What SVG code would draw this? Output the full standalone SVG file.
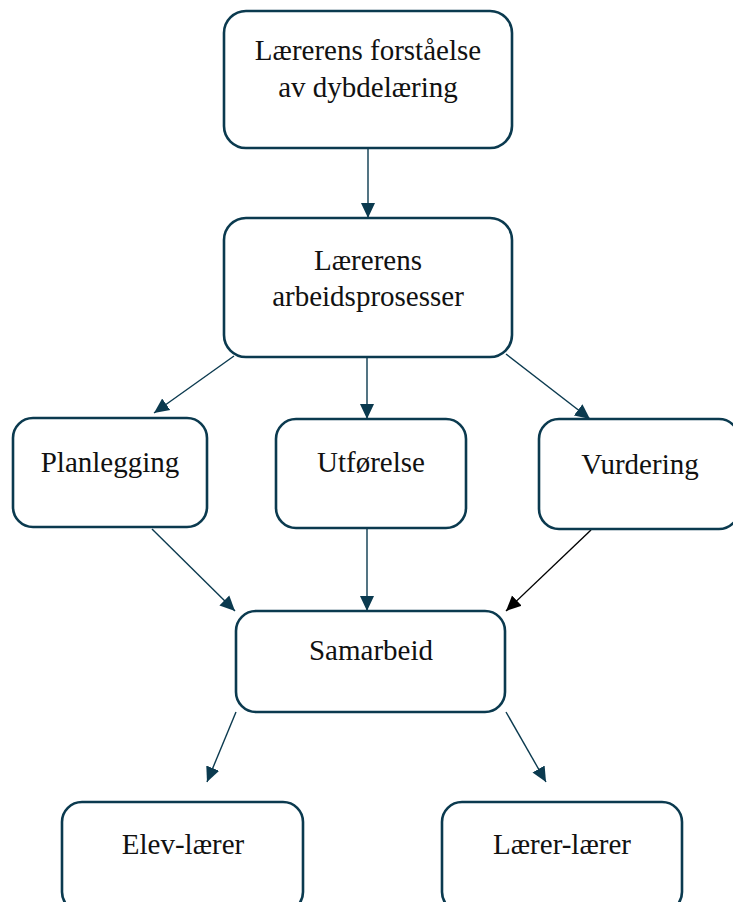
<svg xmlns="http://www.w3.org/2000/svg" width="733" height="902" viewBox="0 0 733 902">
<style>
.box{fill:#fff;stroke:#0b3a4f;stroke-width:2.6}
.t{font-family:"Liberation Serif","Times New Roman",serif;font-size:29px;fill:#111;text-anchor:middle}
.c{stroke:#0b3a4f;stroke-width:1.4;fill:none}
.k{stroke:#000;stroke-width:1.4;fill:none}
</style>
<defs>
<marker id="a" markerUnits="userSpaceOnUse" markerWidth="16" markerHeight="16" viewBox="0 0 16 16" refX="15" refY="8" orient="auto">
<path d="M0,1 L15,8 L0,15 Z" fill="#0b3a4f"/>
</marker>
<marker id="ak" markerUnits="userSpaceOnUse" markerWidth="16" markerHeight="16" viewBox="0 0 16 16" refX="15" refY="8" orient="auto">
<path d="M0,1 L15,8 L0,15 Z" fill="#000"/>
</marker>
</defs>
<g id="connectors">
<line class="c" x1="368" y1="149" x2="368" y2="218" marker-end="url(#a)"/>
<line class="c" x1="234" y1="356" x2="154" y2="413" marker-end="url(#a)"/>
<line class="c" x1="367" y1="358" x2="367" y2="419" marker-end="url(#a)"/>
<line class="c" x1="506" y1="354" x2="590" y2="419" marker-end="url(#a)"/>
<line class="c" x1="152" y1="529" x2="235" y2="611" marker-end="url(#a)"/>
<line class="c" x1="367" y1="529" x2="367" y2="611" marker-end="url(#a)"/>
<line class="k" x1="591" y1="530" x2="506" y2="611" marker-end="url(#ak)"/>
<line class="c" x1="236" y1="712" x2="207" y2="782" marker-end="url(#a)"/>
<line class="c" x1="506" y1="712" x2="546" y2="782" marker-end="url(#a)"/>
</g>
<g id="n1"><rect class="box" x="224" y="11" width="288" height="137" rx="22"/>
<text class="t" x="368" y="60">Lærerens forståelse</text><text class="t" x="368" y="97">av dybdelæring</text></g>
<g id="n2"><rect class="box" x="224" y="218" width="288" height="139" rx="22"/>
<text class="t" x="368" y="270">Lærerens</text><text class="t" x="368" y="306">arbeidsprosesser</text></g>
<g id="n3"><rect class="box" x="13" y="418" width="194" height="109" rx="20"/>
<text class="t" x="110" y="472">Planlegging</text></g>
<g id="n4"><rect class="box" x="276" y="419" width="190" height="109" rx="20"/>
<text class="t" x="371" y="472">Utførelse</text></g>
<g id="n5"><rect class="box" x="539" y="419" width="200" height="110" rx="20"/>
<text class="t" x="640" y="474">Vurdering</text></g>
<g id="n6"><rect class="box" x="236" y="611" width="269" height="101" rx="20"/>
<text class="t" x="371" y="660">Samarbeid</text></g>
<g id="n7"><rect class="box" x="62" y="802" width="241" height="110" rx="20"/>
<text class="t" x="183" y="854">Elev-lærer</text></g>
<g id="n8"><rect class="box" x="442" y="802" width="240" height="110" rx="20"/>
<text class="t" x="562" y="854">Lærer-lærer</text></g>
</svg>
